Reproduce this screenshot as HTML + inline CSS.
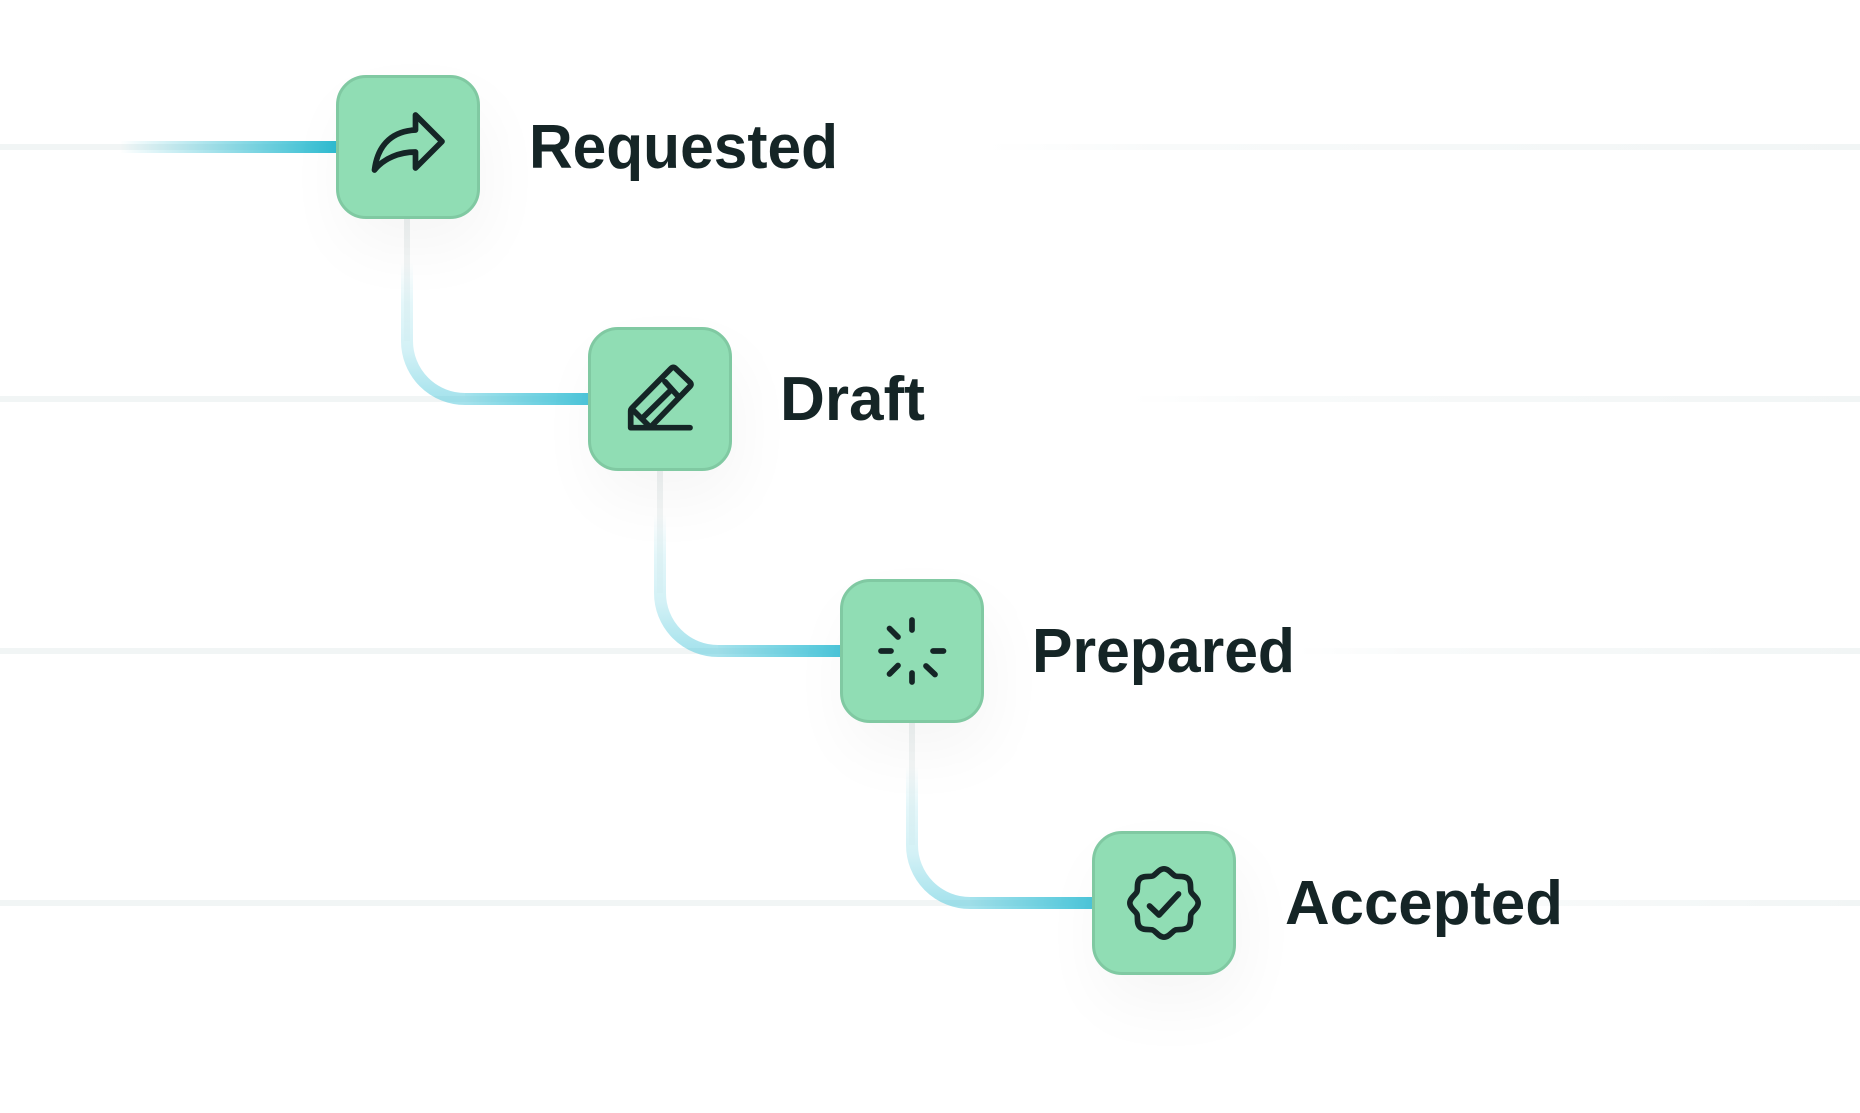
<!DOCTYPE html>
<html><head><meta charset="utf-8"><style>
html,body{margin:0;padding:0;background:#fff}
#c{position:relative;width:1860px;height:1113px;overflow:hidden;background:#fff}
svg{position:absolute;left:0;top:0}
.n{position:absolute;width:144px;height:144px;box-sizing:border-box;border:3px solid #80c9a2;background:#90ddb4;border-radius:30px;box-shadow:7px 30px 66px rgba(0,0,0,.038)}
.t{font-family:"Liberation Sans",sans-serif;font-weight:700;font-size:62px;fill:#152526}
.i{fill:none;stroke:#152526;stroke-width:5.7;stroke-linecap:round;stroke-linejoin:round}
</style></head><body><div id="c">
<svg width="1860" height="1113" viewBox="0 0 1860 1113">
<defs>
<linearGradient id="r1" gradientUnits="userSpaceOnUse" x1="986" x2="1860" y1="0" y2="0"><stop offset="0" stop-color="#f1f5f5" stop-opacity="0"/><stop offset=".2" stop-color="#f1f5f5" stop-opacity=".5"/><stop offset="1" stop-color="#f1f5f5"/></linearGradient>
<linearGradient id="r2" gradientUnits="userSpaceOnUse" x1="1130" x2="1860" y1="0" y2="0"><stop offset="0" stop-color="#f1f5f5" stop-opacity="0"/><stop offset=".2" stop-color="#f1f5f5" stop-opacity=".5"/><stop offset="1" stop-color="#f1f5f5"/></linearGradient>
<linearGradient id="r3" gradientUnits="userSpaceOnUse" x1="1297" x2="1860" y1="0" y2="0"><stop offset="0" stop-color="#f1f5f5" stop-opacity="0"/><stop offset=".2" stop-color="#f1f5f5" stop-opacity=".5"/><stop offset="1" stop-color="#f1f5f5"/></linearGradient>
<linearGradient id="r4" gradientUnits="userSpaceOnUse" x1="1447" x2="1860" y1="0" y2="0"><stop offset="0" stop-color="#f1f5f5" stop-opacity="0"/><stop offset=".2" stop-color="#f1f5f5" stop-opacity=".5"/><stop offset="1" stop-color="#f1f5f5"/></linearGradient>
<linearGradient id="h0" gradientUnits="userSpaceOnUse" x1="120" x2="336" y1="0" y2="0"><stop offset="0" stop-color="#2fbcd1" stop-opacity="0"/><stop offset="1" stop-color="#2fbcd1"/></linearGradient>
<linearGradient id="h1" gradientUnits="userSpaceOnUse" x1="465" x2="588" y1="0" y2="0"><stop offset="0" stop-color="#4cc6da" stop-opacity=".5"/><stop offset="1" stop-color="#4cc6da"/></linearGradient>
<linearGradient id="h2" gradientUnits="userSpaceOnUse" x1="718" x2="840" y1="0" y2="0"><stop offset="0" stop-color="#4cc6da" stop-opacity=".5"/><stop offset="1" stop-color="#4cc6da"/></linearGradient>
<linearGradient id="h3" gradientUnits="userSpaceOnUse" x1="970" x2="1092" y1="0" y2="0"><stop offset="0" stop-color="#4cc6da" stop-opacity=".5"/><stop offset="1" stop-color="#4cc6da"/></linearGradient>
<linearGradient id="v1" gradientUnits="userSpaceOnUse" x1="0" x2="0" y1="262" y2="399"><stop offset="0" stop-color="#4cc6da" stop-opacity="0"/><stop offset=".3" stop-color="#4cc6da" stop-opacity=".15"/><stop offset=".65" stop-color="#4cc6da" stop-opacity=".25"/><stop offset="1" stop-color="#4cc6da" stop-opacity=".5"/></linearGradient>
<linearGradient id="v2" gradientUnits="userSpaceOnUse" x1="0" x2="0" y1="514" y2="651"><stop offset="0" stop-color="#4cc6da" stop-opacity="0"/><stop offset=".3" stop-color="#4cc6da" stop-opacity=".15"/><stop offset=".65" stop-color="#4cc6da" stop-opacity=".25"/><stop offset="1" stop-color="#4cc6da" stop-opacity=".5"/></linearGradient>
<linearGradient id="v3" gradientUnits="userSpaceOnUse" x1="0" x2="0" y1="766" y2="903"><stop offset="0" stop-color="#4cc6da" stop-opacity="0"/><stop offset=".3" stop-color="#4cc6da" stop-opacity=".15"/><stop offset=".65" stop-color="#4cc6da" stop-opacity=".25"/><stop offset="1" stop-color="#4cc6da" stop-opacity=".5"/></linearGradient>
<linearGradient id="g1" gradientUnits="userSpaceOnUse" x1="0" x2="0" y1="219" y2="340"><stop offset="0" stop-color="#edf1f1"/><stop offset="1" stop-color="#edf1f1" stop-opacity=".2"/></linearGradient>
<linearGradient id="g2" gradientUnits="userSpaceOnUse" x1="0" x2="0" y1="471" y2="592"><stop offset="0" stop-color="#edf1f1"/><stop offset="1" stop-color="#edf1f1" stop-opacity=".2"/></linearGradient>
<linearGradient id="g3" gradientUnits="userSpaceOnUse" x1="0" x2="0" y1="723" y2="844"><stop offset="0" stop-color="#edf1f1"/><stop offset="1" stop-color="#edf1f1" stop-opacity=".2"/></linearGradient>
</defs>
<g fill="#f1f5f5">
<rect x="0" y="144" width="336" height="6"/><rect x="0" y="396" width="588" height="6"/><rect x="0" y="648" width="840" height="6"/><rect x="0" y="900" width="1092" height="6"/>
</g>
<rect x="986" y="144" width="874" height="6" fill="url(#r1)"/>
<rect x="1130" y="396" width="730" height="6" fill="url(#r2)"/>
<rect x="1297" y="648" width="563" height="6" fill="url(#r3)"/>
<rect x="1447" y="900" width="413" height="6" fill="url(#r4)"/>
<rect x="120" y="141" width="216" height="12" fill="url(#h0)"/>
<g fill="none" stroke-width="6">
<path d="M407 219V341" stroke="url(#g1)"/>
<path d="M660 471V593" stroke="url(#g2)"/>
<path d="M912 723V845" stroke="url(#g3)"/>
</g>
<g fill="none" stroke-width="12">
<path d="M407 262V341A58 58 0 0 0 465 399" stroke="url(#v1)"/><path d="M465 399H588" stroke="url(#h1)"/>
<path d="M660 514V593A58 58 0 0 0 718 651" stroke="url(#v2)"/><path d="M718 651H840" stroke="url(#h2)"/>
<path d="M912 766V845A58 58 0 0 0 970 903" stroke="url(#v3)"/><path d="M970 903H1092" stroke="url(#h3)"/>
</g>
<text class="t" x="529" y="168" textLength="309" lengthAdjust="spacingAndGlyphs">Requested</text>
<text class="t" x="780" y="420" textLength="145" lengthAdjust="spacingAndGlyphs">Draft</text>
<text class="t" x="1032" y="672" textLength="263" lengthAdjust="spacingAndGlyphs">Prepared</text>
<text class="t" x="1285" y="924" textLength="278" lengthAdjust="spacingAndGlyphs">Accepted</text>
</svg>
<div class="n" style="left:336px;top:75px"></div>
<div class="n" style="left:588px;top:327px"></div>
<div class="n" style="left:840px;top:579px"></div>
<div class="n" style="left:1092px;top:831px"></div>
<svg width="1860" height="1113" viewBox="0 0 1860 1113">
<path class="i" d="M442 141.5L415.5 115V130C395 131 378 142 374.5 170C384 158 400 152 415.5 152V168Z"/>
<path class="i" d="M630.7 427.7V411Q630.7 409.3 632 408L671 368.5Q673.3 366.2 675.6 368.5L690 382.3Q692 384.3 690 386.3L650 427.7H630.7ZM650 427.7H690M633 410L648 425M665 381.7L678.5 396.7M671.7 389.3L642.2 418.3"/>
<path class="i" d="M912 620V630M912 673V682M881 651H891M933 651H943.5M889.5 628.5L898 637M926 666L935 674.5M889.5 674L898 665.5"/>
<g transform="translate(1164 903) scale(.305) translate(-128 -128)"><path class="i" style="stroke-width:18.5" d="M225.86,102.82c-3.77-3.94-7.67-8-9.14-11.57-1.36-3.27-1.44-8.69-1.52-13.94-.15-9.76-.31-20.82-8-28.51s-18.75-7.85-28.51-8c-5.25-.08-10.67-.16-13.94-1.52-3.56-1.47-7.63-5.37-11.57-9.14C146.28,23.51,138.44,16,128,16s-18.27,7.51-25.18,14.14c-3.94,3.77-8,7.67-11.57,9.14C88,40.64,82.56,40.72,77.31,40.8c-9.76.15-20.82.31-28.51,8S41,67.55,40.8,77.31c-.08,5.25-.16,10.67-1.52,13.94-1.47,3.56-5.37,7.63-9.14,11.57C23.51,109.72,16,117.56,16,128s7.51,18.27,14.14,25.18c3.77,3.94,7.67,8,9.14,11.57,1.36,3.27,1.44,8.69,1.52,13.94.15,9.76.31,20.82,8,28.51s18.75,7.85,28.51,8c5.25.08,10.67.16,13.94,1.52,3.56,1.47,7.63,5.37,11.57,9.14C109.72,232.49,117.56,240,128,240s18.27-7.51,25.18-14.14c3.94-3.77,8-7.67,11.57-9.14,3.27-1.36,8.69-1.44,13.94-1.52,9.76-.15,20.82-.31,28.51-8s7.85-18.75,8-28.51c.08-5.25.16-10.67,1.52-13.94,1.47-3.56,5.37-7.63,9.14-11.57C232.49,146.28,240,138.44,240,128S232.49,109.72,225.86,102.82Z"/></g>
<path class="i" d="M1149.5 906L1159 915L1178.5 894"/>
</svg>
</div></body></html>
